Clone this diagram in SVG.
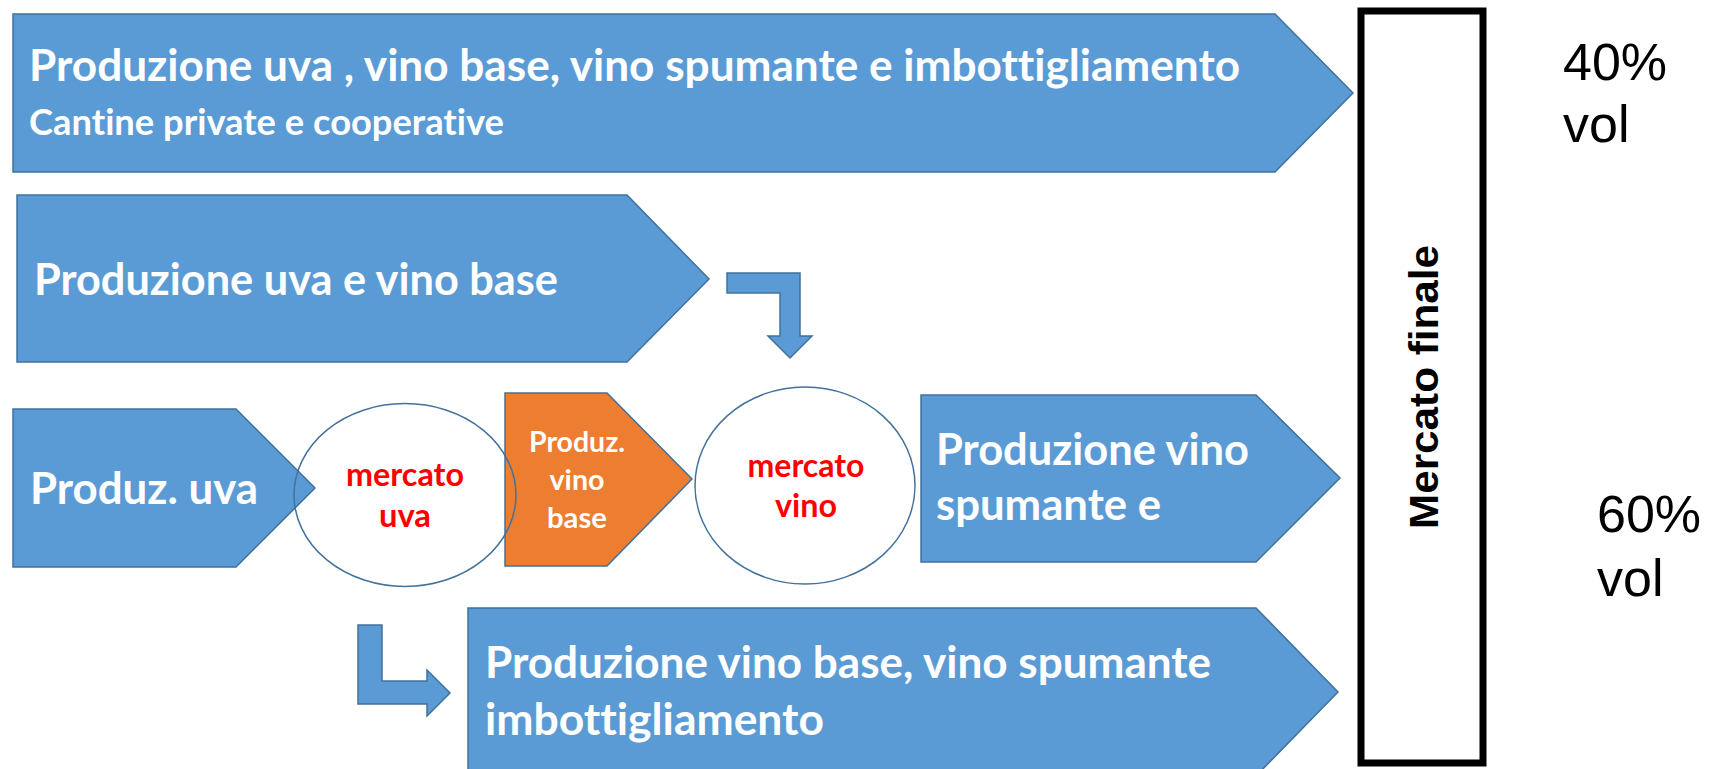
<svg xmlns="http://www.w3.org/2000/svg" width="1710" height="769" viewBox="0 0 1710 769">
<style>
.blue{fill:#5B9BD5;stroke:#41719C;stroke-width:1.5}
.orange{fill:#ED7D31;stroke:#41719C;stroke-width:1.5}
.ell{fill:none;stroke:#41719C;stroke-width:1.5}
.wt{font-family:"Lato","Open Sans",sans-serif;font-weight:bold;fill:#FFFFFF;font-variant-ligatures:none;font-feature-settings:"liga" 0,"dlig" 0}
.rt{font-family:"Lato","Open Sans",sans-serif;font-weight:bold;fill:#FF0000;text-anchor:middle;font-variant-ligatures:none}
.bt{font-family:"Liberation Sans",Arial,sans-serif;fill:#000000}
</style>
<rect width="1710" height="769" fill="#FFFFFF"/>
<g id="node-top">
<path class="blue" d="M13,14 H1275 L1353,93 L1275,172 H13 Z"/>
<text class="wt" x="29" y="81" font-size="43" textLength="1211" lengthAdjust="spacingAndGlyphs">Produzione uva , vino base, vino spumante e imbottigliamento</text>
<text class="wt" x="29" y="135" font-size="37" textLength="475" lengthAdjust="spacingAndGlyphs">Cantine private e cooperative</text>
</g>
<g id="node-second">
<path class="blue" d="M17,195 H627 L709,279 L627,362 H17 Z"/>
<text class="wt" x="34" y="295" font-size="43" textLength="524" lengthAdjust="spacingAndGlyphs">Produzione uva e vino base</text>
</g>
<g id="node-produz-uva">
<path class="blue" d="M13,409 H236 L315,488 L236,567 H13 Z"/>
<text class="wt" x="30" y="504" font-size="43" textLength="228" lengthAdjust="spacingAndGlyphs">Produz. uva</text>
</g>
<g id="node-produz-vino-base">
<path class="orange" d="M505,393 H607 L692,479 L607,566 H505 Z"/>
<text class="wt" x="577" y="452" font-size="29" text-anchor="middle" textLength="96" lengthAdjust="spacingAndGlyphs">Produz.</text>
<text class="wt" x="577" y="490" font-size="29" text-anchor="middle" textLength="55" lengthAdjust="spacingAndGlyphs">vino</text>
<text class="wt" x="577" y="528" font-size="29" text-anchor="middle" textLength="60" lengthAdjust="spacingAndGlyphs">base</text>
</g>
<g id="node-mercato-uva">
<ellipse class="ell" cx="405" cy="495" rx="111" ry="91.5"/>
<text class="rt" x="405" y="486" font-size="33" textLength="118" lengthAdjust="spacingAndGlyphs">mercato</text>
<text class="rt" x="405" y="527" font-size="33" textLength="52" lengthAdjust="spacingAndGlyphs">uva</text>
</g>
<g id="node-mercato-vino">
<ellipse class="ell" cx="805" cy="485.5" rx="110" ry="98.5"/>
<text class="rt" x="806" y="477" font-size="33" textLength="117" lengthAdjust="spacingAndGlyphs">mercato</text>
<text class="rt" x="806" y="517" font-size="33" textLength="62" lengthAdjust="spacingAndGlyphs">vino</text>
</g>
<g id="node-produzione-vino-spumante">
<path class="blue" d="M921,395 H1256 L1340,478 L1256,562 H921 Z"/>
<text class="wt" x="936" y="465" font-size="43" textLength="313" lengthAdjust="spacingAndGlyphs">Produzione vino</text>
<text class="wt" x="936" y="520" font-size="43" textLength="225" lengthAdjust="spacingAndGlyphs">spumante e</text>
</g>
<g id="node-bottom">
<path class="blue" d="M468,608 H1256 L1338,692 L1256,776 H468 Z"/>
<text class="wt" x="485" y="678" font-size="43" textLength="726" lengthAdjust="spacingAndGlyphs">Produzione vino base, vino spumante</text>
<text class="wt" x="485" y="735" font-size="43" textLength="339" lengthAdjust="spacingAndGlyphs">imbottigliamento</text>
</g>
<g id="node-mercato-finale">
<rect x="1361" y="11" width="122" height="752" fill="#FFFFFF" stroke="#000000" stroke-width="7"/>
<text class="bt" font-weight="bold" font-size="41" text-anchor="middle" transform="translate(1438,387) rotate(-90)" x="0" y="0" textLength="284" lengthAdjust="spacingAndGlyphs">Mercato finale</text>
</g>
<g id="labels">
<text class="bt" x="1563" y="80" font-size="52">40%</text>
<text class="bt" x="1563" y="142" font-size="52">vol</text>
<text class="bt" x="1597" y="532" font-size="52">60%</text>
<text class="bt" x="1597" y="596" font-size="52">vol</text>
</g>
<g id="connectors">
<path class="blue" d="M727,273 H800 V336 H812 L790,358 L768,336 H780 V293 H727 Z"/>
<path class="blue" d="M358,625 H382 V681 H427 V670 L450,693 L427,716 V704 H358 Z"/>
</g>
</svg>
